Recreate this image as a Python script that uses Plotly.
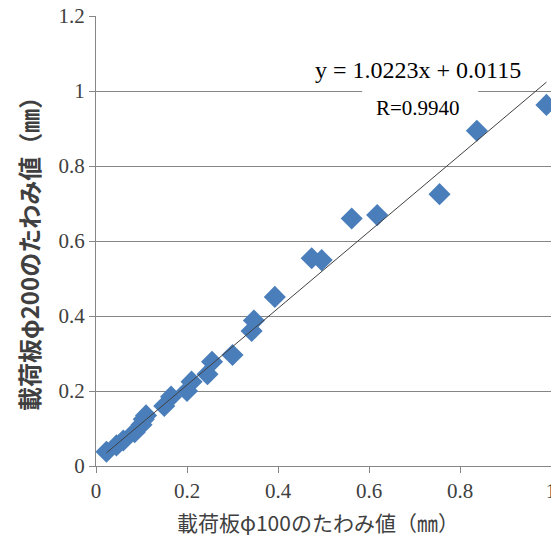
import plotly.graph_objects as go

# Data
x_phi100 = [0.023, 0.045, 0.060, 0.085, 0.100, 0.105, 0.110, 0.150, 0.165,
            0.200, 0.210, 0.245, 0.255, 0.300, 0.342, 0.347, 0.393, 0.474,
            0.496, 0.562, 0.618, 0.755, 0.837, 0.990]
y_phi200 = [0.038, 0.055, 0.068, 0.090, 0.110, 0.125, 0.135, 0.160, 0.185,
            0.200, 0.225, 0.245, 0.278, 0.296, 0.360, 0.388, 0.451, 0.554,
            0.549, 0.660, 0.669, 0.725, 0.894, 0.963]

slope = 1.0223
intercept = 0.0115
r_value = "0.9940"

x_ticks = [0, 0.2, 0.4, 0.6, 0.8, 1]
x_tick_labels = ["0", "0.2", "0.4", "0.6", "0.8", "1"]
y_ticks = [0, 0.2, 0.4, 0.6, 0.8, 1, 1.2]
y_tick_labels = ["0", "0.2", "0.4", "0.6", "0.8", "1", "1.2"]

x_title = "載荷板φ100のたわみ値（㎜）"
y_title = "載荷板φ200のたわみ値（㎜）"

fig = go.Figure()

fig.add_trace(go.Scatter(
    x=x_phi100, y=y_phi200, mode="markers",
    marker=dict(symbol="diamond", size=17, color="#4A7EBB",
                line=dict(width=0)),
    showlegend=False, cliponaxis=False,
))

x_line = [min(x_phi100), max(x_phi100)]
y_line = [slope * v + intercept for v in x_line]
fig.add_trace(go.Scatter(
    x=x_line, y=y_line, mode="lines",
    line=dict(color="#404040", width=1),
    showlegend=False,
))

serif = "Liberation Serif, Times New Roman, serif"
jp = "Noto Sans CJK JP, sans-serif"

fig.update_layout(
    width=551, height=545,
    margin=dict(l=96, r=0, t=16, b=79),
    paper_bgcolor="white", plot_bgcolor="white",
    hovermode=False,
    xaxis=dict(
        range=[0, 1], tickvals=x_ticks, ticktext=x_tick_labels,
        showgrid=False, zeroline=False, automargin=False,
        ticklabeloverflow="allow", showspikes=False,
        showline=True, linecolor="#868686", linewidth=1,
        ticks="outside", ticklen=6, tickcolor="#868686",
        tickfont=dict(family=serif, size=21, color="#404040"),
    ),
    yaxis=dict(
        range=[0, 1.2], tickvals=y_ticks, ticktext=y_tick_labels,
        showgrid=True, gridcolor="#868686", gridwidth=1, zeroline=False,
        automargin=False, ticklabeloverflow="allow", showspikes=False,
        showline=True, linecolor="#868686", linewidth=1,
        ticks="outside", ticklen=6, tickcolor="#868686",
        tickfont=dict(family=serif, size=21, color="#404040"),
    ),
    shapes=[dict(type="rect", xref="x", yref="y", x0=0.585, x1=0.84,
                 y0=0.99, y1=1.01, fillcolor="white", line=dict(width=0),
                 layer="above")],
    annotations=[
        dict(x=0.708, y=1.056, xref="x", yref="y", showarrow=False,
             text=f"y = {slope}x + {intercept}",
             font=dict(family=serif, size=24, color="#000000")),
        dict(x=0.708, y=0.955, xref="x", yref="y", showarrow=False,
             text=f"R={r_value}",
             font=dict(family=serif, size=21, color="#000000")),
        dict(x=0.5, y=0, xref="paper", yref="paper", showarrow=False,
             xanchor="center", yanchor="middle", xshift=-6, yshift=-56,
             text=x_title,
             font=dict(family=jp, size=21, color="#404040")),
        dict(x=0, y=0.5, xref="paper", yref="paper", showarrow=False,
             xanchor="center", yanchor="middle", xshift=-68, yshift=-7,
             textangle=-90, text="<b>" + y_title + "</b>",
             font=dict(family=jp, size=24, color="#404040")),
    ],
)

fig.write_html("out.html",
               config={"displayModeBar": False, "staticPlot": True},
               post_script="document.body.style.margin='0';"
                           "document.body.style.overflow='hidden';")
